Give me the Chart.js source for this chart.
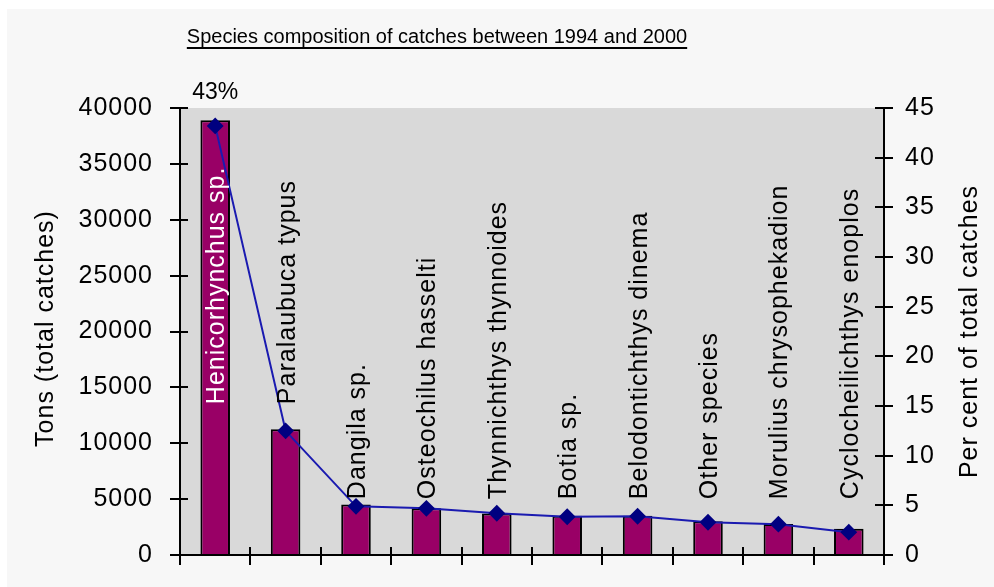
<!DOCTYPE html>
<html lang="en">
<head>
<meta charset="UTF-8">
<title>Species composition of catches</title>
<script src="https://cdn.jsdelivr.net/npm/chart.js@4.4.1/dist/chart.umd.min.js"></script>
<style>
    html, body { margin: 0; padding: 0; background: #f7f7f7; }
    #wrap { width: 994px; height: 587px; }
</style>
</head>
<body>
<div id="wrap"><canvas id="myChart" width="994" height="587"></canvas></div>
<script>
    // data
    const species = ['Henicorhynchus sp.', 'Paralaubuca typus', 'Dangila sp.', 'Osteochilus hasselti',
        'Thynnichthys thynnoides', 'Botia sp.', 'Belodontichthys dinema', 'Other species',
        'Morulius chrysophekadion', 'Cyclocheilichthys enoplos']
    const tons = [38900, 11250, 4530, 4180, 3710, 3510, 3510, 3010, 2780, 2340]
    const percent = [43.2, 12.5, 4.9, 4.7, 4.2, 3.85, 3.9, 3.3, 3.1, 2.3]
    const tonsMax = 40000, tonsStep = 5000
    const pctMax = 45, pctStep = 5

    const chartTitle = 'Species composition of catches between 1994 and 2000'
    const leftTitle = 'Tons (total catches)'
    const rightTitle = 'Per cent of total catches'

    Chart.defaults.font.family = "'Liberation Sans', Arial, sans-serif"
    Chart.defaults.color = '#000'

    const decor = {
        id: 'decor',
        beforeUpdate(chart) {
            chart.ctx.letterSpacing = '1px'
        },
        beforeDraw(chart) {
            const {ctx, chartArea: a} = chart
            ctx.save()
            ctx.fillStyle = '#ffffff'
            ctx.fillRect(0, 0, chart.width, chart.height)
            ctx.fillStyle = '#f7f7f7'
            ctx.fillRect(7, 9, chart.width - 7, chart.height - 9)
            ctx.fillStyle = '#d9d9d9'
            ctx.fillRect(a.left, a.top, a.right - a.left, a.bottom - a.top)
            ctx.restore()
        },
        afterDraw(chart) {
            const {ctx, chartArea: a, scales} = chart
            const y = scales.y, y1 = scales.y1
            ctx.save()

            // inner half of the crossing tick marks
            ctx.strokeStyle = '#000'
            ctx.lineWidth = 2
            ctx.beginPath()
            y.ticks.forEach(t => {
                const py = Math.round(y.getPixelForValue(t.value))
                ctx.moveTo(a.left, py); ctx.lineTo(a.left + 8, py)
            })
            y1.ticks.forEach(t => {
                const py = Math.round(y1.getPixelForValue(t.value))
                ctx.moveTo(a.right - 9, py); ctx.lineTo(a.right, py)
            })
            const n = species.length
            for (let i = 0; i <= n; i++) {
                const px = Math.round(a.left + i * (a.right - a.left) / n)
                ctx.moveTo(px, a.bottom); ctx.lineTo(px, a.bottom - 8)
            }
            ctx.stroke()

            // title, underlined
            ctx.letterSpacing = '0px'
            ctx.font = "20px 'Liberation Sans', Arial, sans-serif"
            ctx.fillStyle = '#000'
            ctx.textAlign = 'center'
            ctx.textBaseline = 'alphabetic'
            const tx = 437, ty = 43
            ctx.fillText(chartTitle, tx, ty)
            const tw = ctx.measureText(chartTitle).width
            ctx.fillRect(tx - tw / 2, ty + 4, tw, 2)

            // axis titles, both reading upwards
            ctx.letterSpacing = '1px'
            ctx.font = "25px 'Liberation Sans', Arial, sans-serif"
            ctx.textBaseline = 'middle'
            const midY = (a.top + a.bottom) / 2
            ctx.save()
            ctx.translate(46, midY - 3)
            ctx.rotate(-Math.PI / 2)
            ctx.fillText(leftTitle, 0, 0)
            ctx.restore()
            ctx.save()
            ctx.translate(970, midY)
            ctx.rotate(-Math.PI / 2)
            ctx.fillText(rightTitle, 0, 0)
            ctx.restore()

            // species names written up the bars
            const bars = chart.getDatasetMeta(1).data
            ctx.textAlign = 'left'
            ctx.textBaseline = 'alphabetic'
            bars.forEach((bar, i) => {
                // first two names sit higher, the rest start at the 5000 line
                const start = y.getPixelForValue(i < 2 ? 13500 : 5000)
                ctx.save()
                ctx.translate(bar.x + 9, start)
                ctx.rotate(-Math.PI / 2)
                ctx.fillStyle = i === 0 ? '#fff' : '#000'
                ctx.fillText(species[i], 0, 0)
                ctx.restore()
            })

            // share of the first species above its point
            const p0 = chart.getDatasetMeta(0).data[0]
            ctx.font = "23px 'Liberation Sans', Arial, sans-serif"
            ctx.textAlign = 'center'
            ctx.letterSpacing = '0px'
            ctx.fillText(Math.round(percent[0]) + '%', p0.x, p0.y - 27)
            ctx.restore()
        }
    }

    const ctx = document.getElementById('myChart').getContext('2d')
    const myChart = new Chart(ctx, {
        type: 'bar',
        data: {
            labels: species,
            datasets: [{
                type: 'line',
                label: 'Per cent',
                data: percent,
                yAxisID: 'y1',
                borderColor: '#1a1ab0',
                borderWidth: 2,
                tension: 0,
                pointStyle: 'rectRot',
                pointRadius: 7,
                pointBackgroundColor: '#000080',
                pointBorderColor: '#000080',
                order: 0
            }, {
                type: 'bar',
                label: 'Tons',
                data: tons,
                yAxisID: 'y',
                backgroundColor: '#990066',
                borderColor: '#000',
                borderWidth: 2,
                barPercentage: 0.42,
                categoryPercentage: 1,
                order: 1
            }]
        },
        options: {
            responsive: false,
            animation: false,
            layout: { padding: { top: 108, bottom: 0, left: 0, right: 0 } },
            plugins: {
                legend: { display: false },
                tooltip: { enabled: false },
                title: { display: false }
            },
            scales: {
                x: {
                    grid: { drawOnChartArea: false, tickLength: 10, color: '#000', lineWidth: 2, offset: true },
                    border: { color: '#000', width: 2 },
                    ticks: { display: false },
                    afterFit(s) { s.height = 22 }
                },
                y: {
                    position: 'left',
                    min: 0,
                    max: tonsMax,
                    ticks: { stepSize: tonsStep, font: { size: 25 }, padding: 17, color: '#000',
                        callback: v => String(v) },
                    grid: { drawOnChartArea: false, tickLength: 10, color: '#000', lineWidth: 2 },
                    border: { color: '#000', width: 2 },
                    afterFit(s) { s.width = 180 }
                },
                y1: {
                    position: 'right',
                    min: 0,
                    max: pctMax,
                    ticks: { stepSize: pctStep, font: { size: 25 }, padding: 12, color: '#000',
                        callback: v => String(v) },
                    grid: { drawOnChartArea: false, tickLength: 9, color: '#000', lineWidth: 2 },
                    border: { color: '#000', width: 2 },
                    afterFit(s) { s.width = 110 }
                }
            }
        },
        plugins: [decor]
    })
</script>
</body>
</html>
